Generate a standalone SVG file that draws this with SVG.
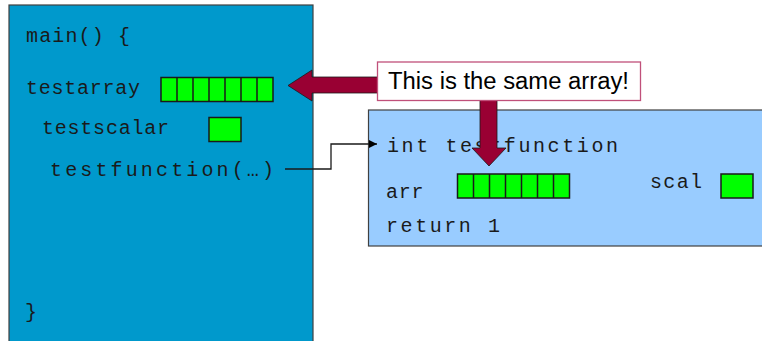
<svg xmlns="http://www.w3.org/2000/svg" width="762" height="341" viewBox="0 0 762 341">
<style>
.code{font-family:"Liberation Mono","DejaVu Sans Mono",monospace;font-size:20px;fill:#1a1a1a}
.cell{fill:#00FF00;stroke:#1a1a1a;stroke-width:1.5}
.frame{stroke:#404040;stroke-width:1.2}
.big{fill:#990033;stroke:#1a1a1a;stroke-width:0.8}
</style>
<defs>
<marker id="ah" markerWidth="10" markerHeight="10" refX="8" refY="5" orient="auto" markerUnits="userSpaceOnUse">
<path d="M0,1 L8,5 L0,9 Z" fill="#000"/>
</marker>
<g id="arr7">
<rect class="cell" x="0" y="0" width="112" height="24"/>
<path d="M16,0V24M32,0V24M48,0V24M64,0V24M80,0V24M96,0V24" stroke="#1a1a1a" stroke-width="1.5"/>
</g>
</defs>
<g id="main">
<rect class="frame" x="9" y="5" width="304" height="345" fill="#0099CC"/>
<text class="code" x="26" y="42" textLength="104" lengthAdjust="spacing">main() {</text>
<text class="code" x="26" y="94" textLength="114" lengthAdjust="spacing">testarray</text>
<use href="#arr7" x="161" y="77.5"/>
<text class="code" x="42" y="134" textLength="127" lengthAdjust="spacing">testscalar</text>
<rect class="cell" x="209" y="117.5" width="32" height="24"/>
<text class="code" x="50" y="176" textLength="224" lengthAdjust="spacing">testfunction(…)</text>
<text class="code" x="25" y="318">}</text>
</g>
<g id="testfunction">
<rect class="frame" x="368.5" y="110" width="420" height="136" fill="#99CCFF"/>
<text class="code" x="387" y="152" textLength="231" lengthAdjust="spacing">int testfunction</text>
<text class="code" x="386" y="198" textLength="37.5" lengthAdjust="spacing">arr</text>
<use href="#arr7" x="457.5" y="174"/>
<text class="code" x="650" y="188" textLength="52" lengthAdjust="spacing">scal</text>
<rect class="cell" x="721" y="174" width="32" height="24"/>
<text class="code" x="386" y="232" textLength="114" lengthAdjust="spacing">return 1</text>
</g>
<g id="connectors">
<polyline points="285,169 331,169 331,144 377,144" fill="none" stroke="#1a1a1a" stroke-width="1.3" marker-end="url(#ah)"/>
<path class="big" d="M390,77 L312,77 L312,70 L288,85.5 L312,101 L312,93 L390,93 Z"/>
<path class="big" d="M480,95 L480,148 L472,148 L489,166 L506,148 L497,148 L497,95 Z"/>
</g>
<g id="callout">
<rect x="377.5" y="62" width="263" height="38.5" fill="#FFFFFF" stroke="#C0507A" stroke-width="1.3"/>
<text x="388" y="88.5" font-family="Liberation Sans, Arial, sans-serif" font-size="23" fill="#000" textLength="241" lengthAdjust="spacingAndGlyphs">This is the same array!</text>
</g>
</svg>
